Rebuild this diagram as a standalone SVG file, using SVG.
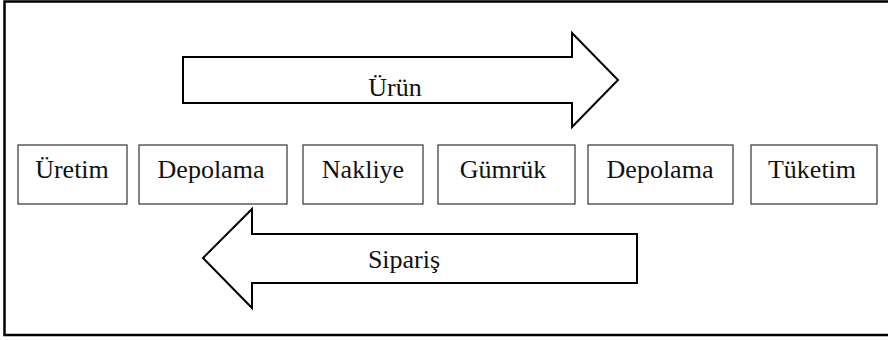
<svg xmlns="http://www.w3.org/2000/svg" width="888" height="340" viewBox="0 0 888 340">
<style>
.frame{fill:#fff;stroke:#000;stroke-width:2.5}
.box{fill:#fff;stroke:#333;stroke-width:1.2}
.arrow{fill:#fff;stroke:#000;stroke-width:2;stroke-linejoin:miter}
.t{font-family:"Liberation Serif","Times New Roman",serif;font-size:26px;fill:#111;text-anchor:middle}
</style>
<rect class="frame" x="4.5" y="1.5" width="900" height="333.5"/>
<g id="connectors">
<g id="arrow-urun">
<path class="arrow" d="M183,57 L572,57 L572,33 L618,80 L572,127 L572,103 L183,103 Z"/>
<text class="t" x="395" y="96">Ürün</text>
</g>
<g id="arrow-siparis">
<path class="arrow" d="M637,234 L252,234 L252,209 L203,258 L252,308 L252,283 L637,283 Z"/>
<text class="t" x="404" y="268">Sipariş</text>
</g>
</g>
<g id="uretim"><rect class="box" x="18" y="145" width="109" height="59"/><text class="t" x="72" y="178">Üretim</text></g>
<g id="depolama1"><rect class="box" x="139" y="145" width="148" height="59"/><text class="t" x="211" y="178">Depolama</text></g>
<g id="nakliye"><rect class="box" x="303" y="145" width="120" height="59"/><text class="t" x="363" y="178">Nakliye</text></g>
<g id="gumruk"><rect class="box" x="438" y="145" width="137" height="59"/><text class="t" x="503" y="178">Gümrük</text></g>
<g id="depolama2"><rect class="box" x="588" y="145" width="145" height="59"/><text class="t" x="660" y="178">Depolama</text></g>
<g id="tuketim"><rect class="box" x="751" y="145" width="126" height="59"/><text class="t" x="812" y="178">Tüketim</text></g>
</svg>
